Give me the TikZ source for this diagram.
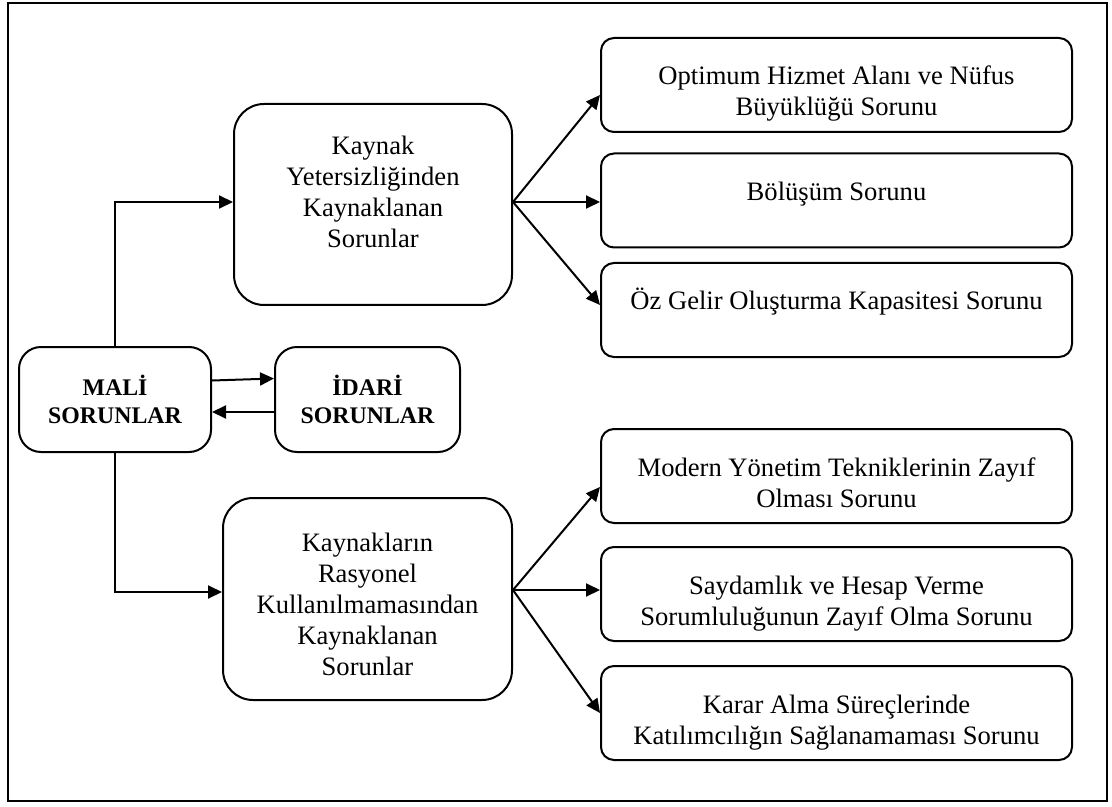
\documentclass[tikz,border=0pt]{standalone}
\usepackage{fontspec}
\setmainfont{Liberation Serif}
\usetikzlibrary{arrows.meta}

\begin{document}
\begin{tikzpicture}[>={Triangle[length=7pt,width=6.5pt]},x=0.5pt,y=-0.5pt,
      line width=1pt,
      main node/.style={draw,rounded corners=11pt,align=flush center,inner sep=0pt,
        minimum height=52.5pt,font=\fontsize{11.9}{14}\selectfont\bfseries},
      group node/.style={draw,rounded corners=15pt,align=flush center,inner xsep=4pt,
        inner ysep=0pt,font=\fontsize{13.3}{15.5}\selectfont},
      item node/.style={draw,rounded corners=6.5pt,align=flush center,inner xsep=5pt,
        inner ysep=0pt,text width=225.5pt,text height=23.5pt,text depth=23.5pt,
        font=\fontsize{13.3}{15.5}\selectfont}]
    \useasboundingbox (0,0) rectangle (1112,807);
    \draw[line width=1.2pt] (8,3) rectangle (1107,801);
    % left side
    \node[main node,minimum width=96pt] (mali) at (115,399.5) {MALİ\\SORUNLAR};
    \node[main node,minimum width=92.5pt] (idari) at (367.5,399.5) {İDARİ\\SORUNLAR};
    \node[group node,text width=131pt,text height=25.5pt,text depth=75pt] (kaynak) at (373,204.5)
      {Kaynak\\Yetersizliğinden\\Kaynaklanan\\Sorunlar};
    \node[group node,text width=136.5pt,text height=26.5pt,text depth=74.5pt] (rasyonel) at (367.5,599)
      {Kaynakların\\Rasyonel\\Kullanılmamasından\\Kaynaklanan\\Sorunlar};
    % right side
    \node[item node] (optimum) at (836.5,85) {Optimum Hizmet Alanı ve Nüfus\\Büyüklüğü Sorunu};
    \node[item node] (bolusum) at (836.5,200.5) {Bölüşüm Sorunu};
    \node[item node] (ozgelir) at (836.5,310) {Öz Gelir Oluşturma Kapasitesi Sorunu};
    \node[item node] (modern) at (836.5,476) {Modern Yönetim Tekniklerinin Zayıf\\Olması Sorunu};
    \node[item node] (saydam) at (836.5,594) {Saydamlık ve Hesap Verme\\Sorumluluğunun Zayıf Olma Sorunu};
    \node[item node] (karar) at (836.5,713) {Karar Alma Süreçlerinde\\Katılımcılığın Sağlanamaması Sorunu};
    \coordinate (fan1) at ([yshift=1.25pt]kaynak.east);
    \coordinate (fan2) at ([yshift=4.5pt]rasyonel.east);
    % connectors
    \draw[->] (mali.north) |- ([yshift=1.25pt]kaynak.west);
    \draw[->] (mali.south) |- ([yshift=3.5pt]rasyonel.west);
    \draw[->] ([yshift=9.5pt]mali.east) -- ([yshift=10.5pt]idari.west);
    \draw[->] ([yshift=-6.25pt]idari.west) -- ([yshift=-6.25pt]mali.east);
    \path
      (fan1) edge [->] ([yshift=-5pt]optimum.west)
             edge [->] ([yshift=-0.75pt]bolusum.west)
             edge [->] ([yshift=2.5pt]ozgelir.west)
      (fan2) edge [->] ([yshift=-5.5pt]modern.west)
             edge [->] ([yshift=2pt]saydam.west)
             edge [->] (karar.west);
\end{tikzpicture}
\end{document}
